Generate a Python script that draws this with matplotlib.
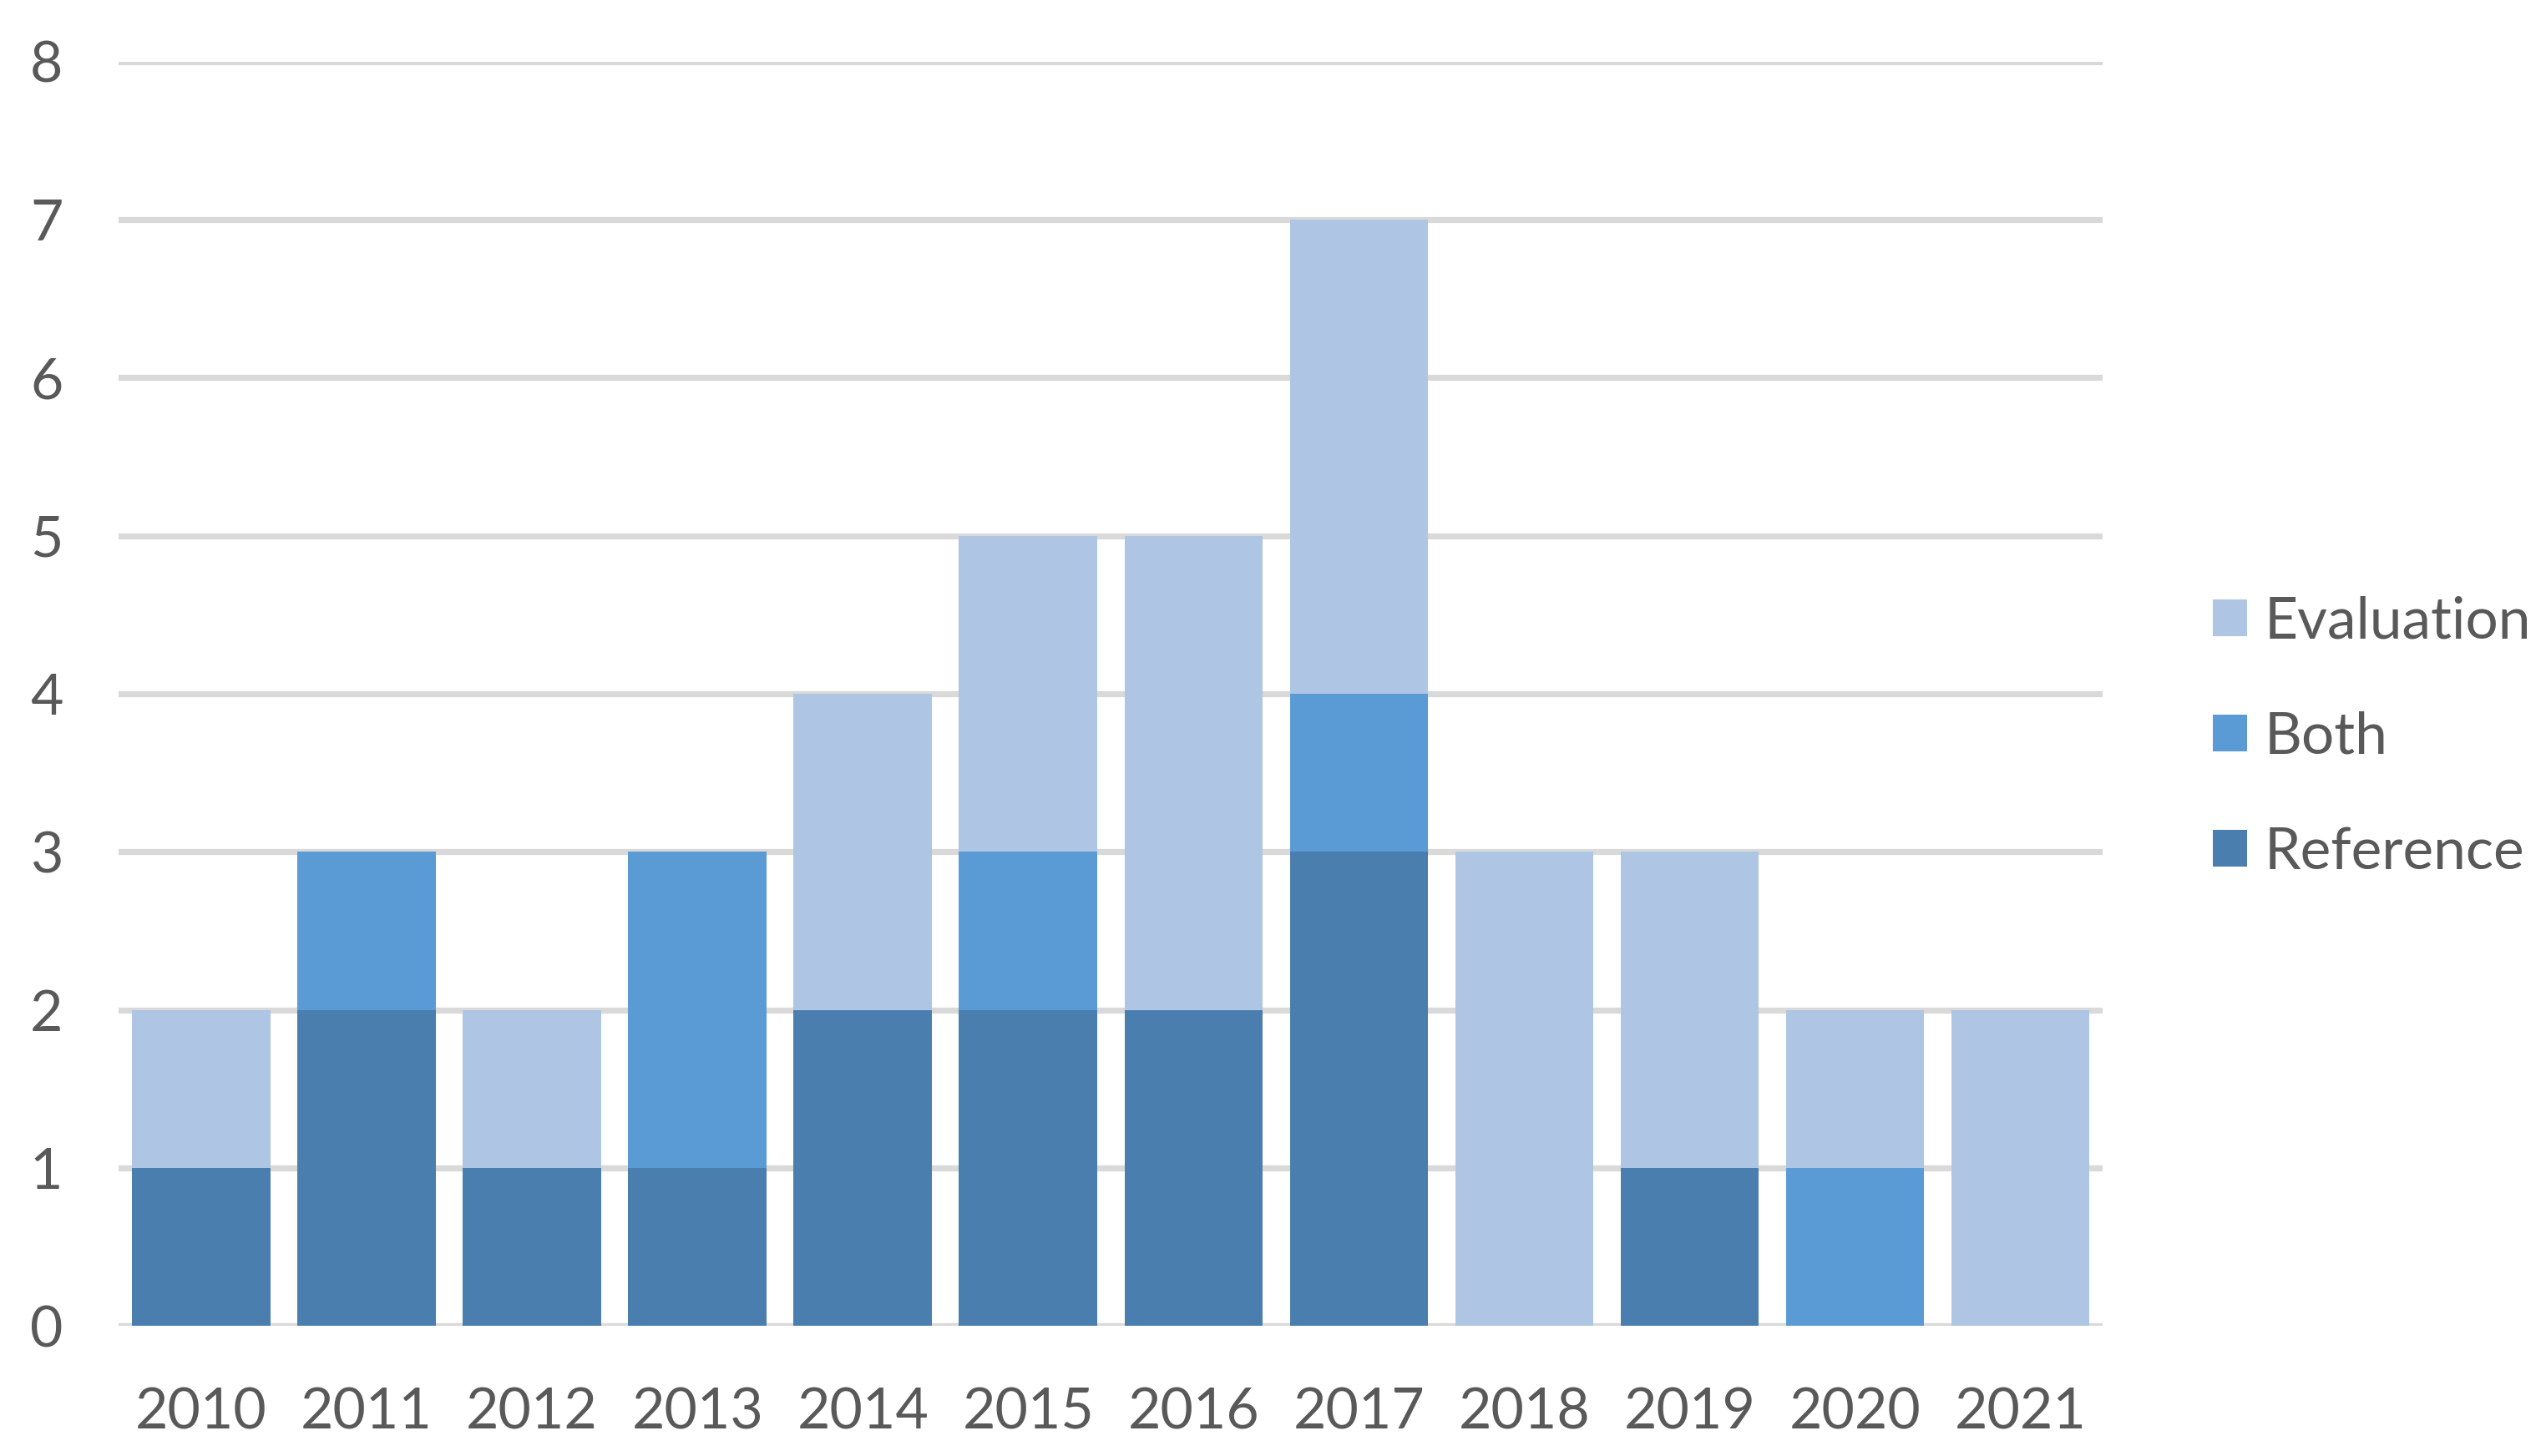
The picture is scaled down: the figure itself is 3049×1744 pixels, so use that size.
import matplotlib
matplotlib.use("Agg")
import matplotlib.pyplot as plt
import numpy as np

years = ["2010", "2011", "2012", "2013", "2014", "2015", "2016", "2017", "2018", "2019", "2020", "2021"]
reference = [1, 2, 1, 1, 2, 2, 2, 3, 0, 1, 0, 0]
both = [0, 1, 0, 2, 0, 1, 0, 1, 0, 0, 1, 0]
evaluation = [1, 0, 1, 0, 2, 2, 3, 3, 3, 2, 1, 2]
yticks = [0, 1, 2, 3, 4, 5, 6, 7, 8]

c_ref = "#4A7EAE"
c_both = "#5B9BD5"
c_eval = "#AEC6E4"
txt = "#595959"
grid = "#D9D9D9"

plt.rcParams["font.family"] = ["Lato", "DejaVu Sans"]

dpi = 100
fig = plt.figure(figsize=(30.49, 17.44), dpi=dpi)
ax = fig.add_axes([0.0466, 0.0894, 0.826 - 0.0466, 0.9576 - 0.0894])

x = np.arange(len(years))
w = 0.836
ref = np.array(reference)
bo = np.array(both)
ev = np.array(evaluation)
b1 = ax.bar(x, ref, w, color=c_ref, zorder=3, label="Reference")
b2 = ax.bar(x, bo, w, bottom=ref, color=c_both, zorder=3, label="Both")
b3 = ax.bar(x, ev, w, bottom=ref + bo, color=c_eval, zorder=3, label="Evaluation")

ax.set_xlim(-0.5, len(years) - 0.5)
ax.set_ylim(0, 8)
ax.set_yticks(yticks)
ax.set_yticklabels([str(t) for t in yticks])
ax.set_xticks(x)
ax.set_xticklabels(years)
for s in ax.spines.values():
    s.set_visible(False)
ax.grid(axis="y", color=grid, linewidth=5.2, zorder=0)
ax.set_axisbelow(True)
ax.tick_params(axis="both", length=0, labelsize=49, colors=txt)
ax.tick_params(axis="y", pad=48)
ax.tick_params(axis="x", pad=53)

leg = fig.legend([b3, b2, b1], ["Evaluation", "Both", "Reference"],
                 loc="center left", bbox_to_anchor=(0.869, 0.4935), frameon=False,
                 fontsize=50, labelcolor=txt, handlelength=0.6, handleheight=0.6,
                 handletextpad=0.3, labelspacing=1.08, borderpad=0, borderaxespad=0)

fig.savefig("out.png", dpi=dpi, facecolor="white")
